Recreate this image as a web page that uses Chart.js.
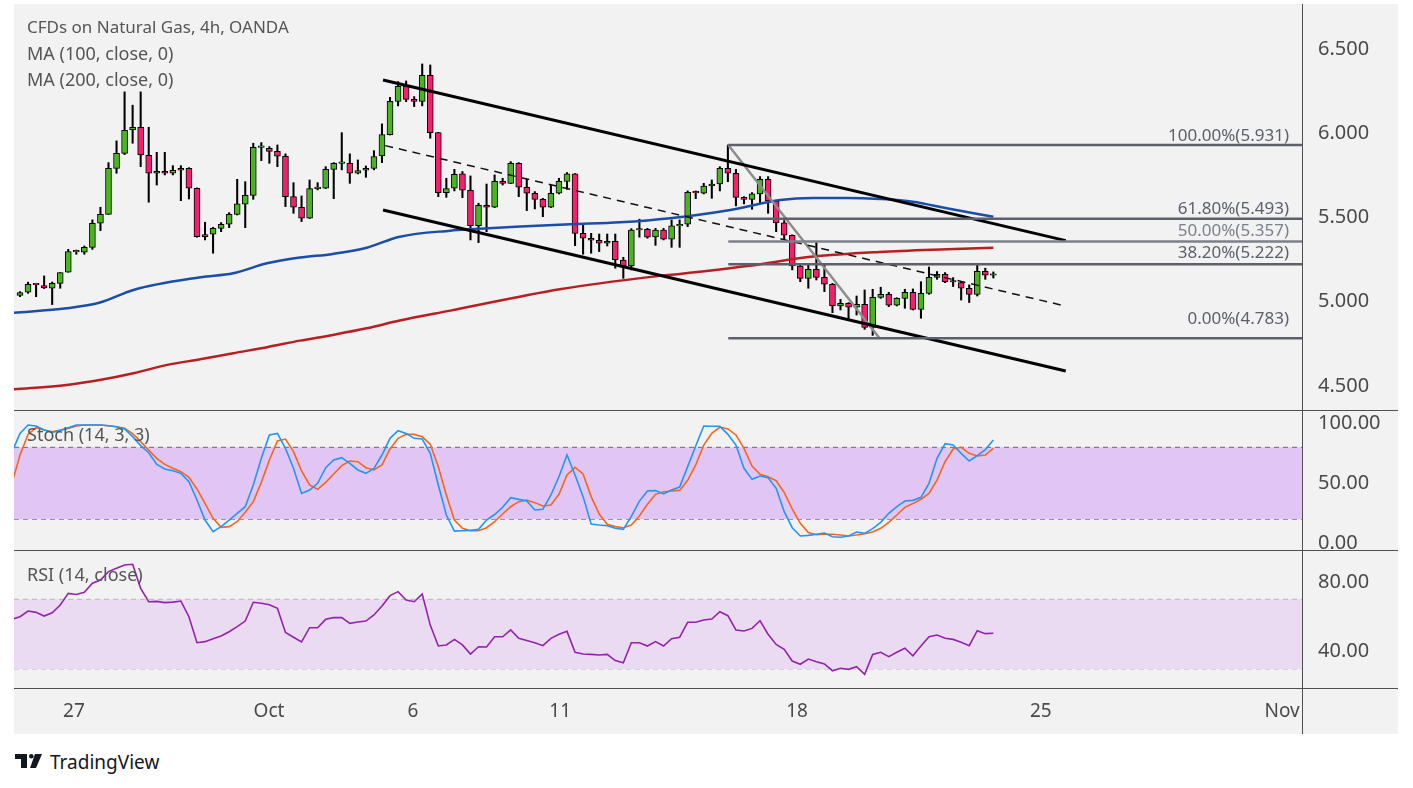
<!DOCTYPE html>
<html>
<head>
<meta charset="utf-8">
<title>CFDs on Natural Gas, 4h, OANDA</title>
<script src="https://cdn.jsdelivr.net/npm/chart.js@4.4.1/dist/chart.umd.min.js"></script>
<style>
  body { margin: 0; width: 1413px; height: 788px; overflow: hidden; background: #fff; font-family: "Noto Sans", sans-serif; }
  #frame { position: absolute; left: 14px; top: 4px; width: 1384px; height: 730px; background: #f2f2f2; }
  #frame canvas { position: absolute; left: 0; }
  .lbl { position: absolute; left: 13px; color: #555; font-size: 18px; line-height: 22px; white-space: nowrap; }
  #logo { position: absolute; left: 15px; top: 750px; height: 24px; }
  #logo span { position: absolute; left: 35px; top: -1px; font-size: 19px; color: #131722; white-space: nowrap; }
</style>
</head>
<body>
<div id="frame">
  <canvas id="priceChart" width="1384" height="406" style="top:0"></canvas>
  <canvas id="stochChart" width="1384" height="140" style="top:406px"></canvas>
  <canvas id="rsiChart" width="1384" height="184" style="top:546px"></canvas>
  <div class="lbl" style="top:12px;font-size:17px">CFDs on Natural Gas, 4h, OANDA</div>
  <div class="lbl" style="top:38px">MA (100, close, 0)</div>
  <div class="lbl" style="top:64px">MA (200, close, 0)</div>
  <div class="lbl" style="top:419px">Stoch (14, 3, 3)</div>
  <div class="lbl" style="top:559px">RSI (14, close)</div>
</div>
<div id="logo">
  <svg width="30" height="18" viewBox="0 0 30 18">
    <path d="M0 4h12v14H6V9H0z" fill="#131722"/>
    <circle cx="16.3" cy="6.3" r="2.3" fill="#131722"/>
    <path d="M20 4h7l-6 14h-6z" fill="#131722"/>
  </svg>
  <span>TradingView</span>
</div>
<script>
// 4h candles, index 0 = first visible bar
const opens  = [5.038,5.056,5.104,5.096,5.080,5.109,5.175,5.296,5.294,5.323,5.466,5.519,5.792,5.881,6.020,6.036,5.870,5.763,5.775,5.763,
                5.781,5.792,5.674,5.387,5.401,5.436,5.460,5.519,5.579,5.632,5.917,5.911,5.893,5.864,5.624,5.561,5.496,5.672,5.674,5.786,
                5.822,5.822,5.763,5.781,5.792,5.866,5.992,6.190,6.279,6.202,6.190,6.345,6.004,5.648,5.674,5.759,5.662,5.452,5.573,5.561,
                5.715,5.703,5.822,5.680,5.644,5.608,5.561,5.644,5.715,5.759,5.406,5.377,5.365,5.347,5.359,5.248,5.212,5.426,5.430,5.385,
                5.426,5.371,5.450,5.460,5.650,5.644,5.687,5.699,5.792,5.763,5.620,5.608,5.640,5.727,5.598,5.468,5.395,5.212,5.139,5.193,
                5.145,5.104,4.975,4.991,4.967,4.985,4.848,5.026,5.044,4.979,5.020,5.056,4.955,5.050,5.145,5.163,5.119,5.113,5.080,5.044,
                5.181,5.157];
const highs  = [5.060,5.116,5.104,5.153,5.117,5.173,5.311,5.307,5.331,5.486,5.561,5.826,5.955,6.246,6.167,6.246,6.036,5.887,5.887,5.808,
                5.808,5.796,5.676,5.472,5.442,5.470,5.529,5.727,5.713,5.941,5.945,5.921,5.931,5.878,5.707,5.628,5.723,5.707,5.802,5.826,
                6.004,5.878,5.842,5.806,5.897,6.056,6.214,6.307,6.311,6.218,6.412,6.406,6.006,5.733,5.786,5.773,5.747,5.585,5.699,5.753,
                5.733,5.832,5.826,5.727,5.654,5.614,5.693,5.733,5.767,5.761,5.456,5.406,5.402,5.402,5.402,5.264,5.434,5.490,5.436,5.436,
                5.436,5.486,5.486,5.658,5.658,5.703,5.723,5.802,5.931,5.786,5.624,5.648,5.743,5.743,5.600,5.482,5.397,5.228,5.228,5.351,
                5.224,5.109,5.014,4.995,5.034,5.070,5.074,5.086,5.056,5.024,5.074,5.076,5.119,5.206,5.179,5.173,5.143,5.119,5.100,5.218,
                5.199,5.177];
const lows   = [5.030,5.050,5.030,5.078,4.983,5.080,5.175,5.282,5.282,5.311,5.422,5.519,5.763,5.874,5.941,5.802,5.591,5.693,5.753,5.753,
                5.600,5.610,5.383,5.367,5.288,5.416,5.440,5.515,5.440,5.608,5.838,5.822,5.802,5.565,5.525,5.476,5.494,5.664,5.672,5.612,
                5.783,5.703,5.759,5.739,5.783,5.826,5.990,6.163,6.188,6.159,6.163,5.971,5.624,5.620,5.658,5.618,5.367,5.351,5.416,5.559,
                5.693,5.701,5.624,5.541,5.551,5.505,5.559,5.640,5.668,5.333,5.282,5.288,5.298,5.331,5.199,5.139,5.189,5.383,5.377,5.335,
                5.367,5.323,5.323,5.446,5.612,5.640,5.614,5.658,5.713,5.569,5.581,5.549,5.588,5.525,5.416,5.371,5.189,5.119,5.080,5.129,
                5.060,4.935,4.951,4.896,4.921,4.836,4.800,5.020,4.971,4.975,4.961,4.951,4.902,5.044,5.133,5.113,5.090,5.010,4.995,5.034,
                5.133,5.141];
const closes = [5.054,5.104,5.100,5.082,5.109,5.173,5.298,5.298,5.323,5.466,5.519,5.792,5.881,6.018,6.036,5.872,5.763,5.775,5.763,5.781,
                5.792,5.674,5.387,5.399,5.436,5.460,5.519,5.581,5.632,5.917,5.919,5.893,5.864,5.624,5.561,5.496,5.672,5.674,5.786,5.822,
                5.824,5.763,5.779,5.792,5.862,5.992,6.190,6.279,6.202,6.190,6.345,6.004,5.648,5.672,5.757,5.662,5.452,5.573,5.561,5.715,
                5.703,5.822,5.680,5.644,5.608,5.561,5.644,5.715,5.759,5.406,5.377,5.365,5.347,5.359,5.248,5.212,5.426,5.430,5.383,5.426,
                5.371,5.450,5.460,5.650,5.646,5.687,5.699,5.792,5.763,5.620,5.608,5.640,5.727,5.598,5.468,5.395,5.212,5.139,5.193,5.145,
                5.104,4.975,4.991,4.967,4.985,4.848,5.026,5.044,4.979,5.020,5.056,4.955,5.050,5.145,5.163,5.119,5.117,5.080,5.044,5.181,
                5.157,5.159];

// moving averages, read at knots along the curves (bar index, price)
const ma100Idx = [-0.75,5.8,9.95,14.1,22.4,26.5,30.7,34.8,38.9,43.1,47.2,53.5,56,62.2,68.4,74.6,80.8,88.3,94.5,98.6,102.8,106.9,111,115.2,121];
const ma100Val = [4.935,4.961,4.995,5.070,5.145,5.169,5.228,5.262,5.284,5.321,5.386,5.422,5.430,5.446,5.460,5.472,5.496,5.545,5.604,5.616,5.616,5.610,5.594,5.555,5.505];
const ma200Idx = [-0.75,5.8,9.9,14.1,18.3,22.4,26.5,30.7,34.8,38.9,43.1,47.2,53.5,67.1,78.7,82.0,90.4,98.6,106.9,115.2,121];
const ma200Val = [4.480,4.506,4.535,4.575,4.625,4.658,4.694,4.730,4.769,4.803,4.842,4.888,4.947,5.074,5.149,5.165,5.212,5.268,5.296,5.312,5.321];

// oscillators, first value belongs to bar -1 (cut by the left edge)
const oscStart = -1;
const stochK = [76,91.6,98.6,97.8,94.4,92.5,94,96.4,98.6,98.6,98.6,98.6,98,97.2,95.3,88.9,81.4,75.5,65.8,61.9,60.5,58.3,51.4,36.1,19.4,9.7,
                13.9,19.4,25,30.5,48.6,70.8,90.3,91.6,79.1,62.5,41.6,44.4,50,63,69.4,71.4,66.6,61.1,58.3,62.5,73.6,87.5,93.9,91.6,87.5,86.9,
                75,48.6,23.6,10.2,10.5,10.8,11.6,19.4,24,30,38,36.6,35.2,27.8,28.3,40.3,55.5,73.6,56.9,38.9,16.1,15.3,14.7,12.5,11.6,22.5,
                35.2,43.6,43.9,41.1,44.4,46.9,63.9,81.1,97.8,97.5,97.5,90.8,81.9,62.5,53.3,56.1,54.7,45.8,26.4,13,6.1,6.6,7.5,8.6,5.5,5,
                6.1,9.4,8.3,12.2,17.5,25,30.5,35.2,35.8,38.3,50,70.8,83,81.9,75,68.6,73,78,86.1];
const stochD = [50,73.6,90.8,96.4,94.4,93,94.4,95.8,97.8,98.6,98.6,98.6,98,97.2,95.8,91.4,84.7,77.7,70.8,65.8,62.5,59.7,55,45.3,33.3,20.8,
                13.3,13.9,18,25.8,34.7,50.8,69.4,85.3,86.9,76.4,60.3,48.6,45,50.8,57.8,64.7,68.6,68,63,61.1,65.3,78.6,87.5,90.8,90.8,88.9,
                82.5,63.9,40.3,19.4,12.5,10.5,10.5,13,18,24.4,30.5,34.7,36.1,33.9,31.1,31.9,40.8,56.9,63.3,57.8,38.9,24.4,15.8,13.9,13,15.3,
                22.8,32.5,40.8,43,43.6,44.1,52.5,65.3,81.9,91.6,96.9,95.3,90.3,79.1,64.4,57.5,55.5,52.2,42.5,28.6,16.6,8.9,7.2,7.5,7.5,6.9,
                6.1,6.9,8,9.4,12.5,17.5,23.6,30,33.1,36.7,41.6,52.7,68,78.6,80,75,72.8,73.6,79.1];
const rsi    = [58.5,60,63.3,62.5,60.4,62.3,66.7,73.4,72.8,74,79.2,81.1,85.9,87.8,89.7,90.1,76.3,68.6,68.8,68.1,68.4,69,60,45.1,45.7,47.4,
                48.9,51.4,54.3,57.5,68.3,67.7,66.9,64.8,51,48.2,45.5,53.7,53.7,58.5,59.5,59.5,56.2,57,57.5,61,66.2,72.1,74.4,69.6,68.6,73,
                55.2,43.2,43.8,47,43.8,38.6,42.8,42.6,48.5,48.5,52.4,47.6,46.3,45.1,43.4,47.6,49.9,51.6,39.6,38.6,38.4,38,38.4,34.8,33.6,45.1,
                45.1,43.2,45.7,43.2,47.4,48.2,56.8,56.8,58.1,58.7,62.9,60.6,52.4,51.8,53.3,57.7,49.9,44.1,41.3,34.6,32.7,35.7,34.2,32.9,29,
                30.4,29.8,31.3,26.9,38.4,39.6,37.1,39.6,41.9,37.6,43.2,48.5,49.5,47.6,47,45.3,43.4,52,50.3,50.5];
const stochBands = [20, 80];
const rsiBands = [30, 70];

// drawings: [barIndex, price]
const channelUpper = [[45.13, 6.317], [130.0, 5.363]];
const channelLower = [[45.13, 5.545], [130.0, 4.589]];
const channelMid   = [[45.4, 5.927], [129.9, 4.975]];
const swingLine    = [[88.05, 5.931], [106.9, 4.78]];
const fibStart = 88.05;
const fibLevels = [5.931, 5.493, 5.357, 5.222, 4.783];
const fibPct = ['100.00%', '61.80%', '50.00%', '38.20%', '0.00%'];

// axes
const xMin = -0.746, xMax = 159.37;
const xTickPos = [6.7, 30.95, 48.85, 67.15, 96.6, 126.9, 156.9];
const xTickText = ['27', 'Oct', '6', '11', '18', '25', 'Nov'];
const priceTicks = [4.5, 5.0, 5.5, 6.0, 6.5];
const stochTicks = [0, 50, 100];
const rsiTicks = [40, 80];

const FONT = '"Noto Sans", sans-serif';
const GREEN = '#4bb521', RED = '#f5206b';
const AXIS_W = 96;

function pts(pairs) { return pairs.map(p => ({ x: p[0], y: p[1] })); }
function noPad(scale) { scale.paddingTop = 0; scale.paddingBottom = 0; scale.paddingLeft = 0; scale.paddingRight = 0; }

function yAxis(min, max, ticks, digits) {
  return {
    position: 'right', min, max,
    grid: { display: false, drawTicks: false }, border: { display: false },
    afterBuildTicks: s => { s.ticks = ticks.map(v => ({ value: v })); },
    afterFit: s => { s.width = AXIS_W; noPad(s); },
    ticks: { padding: 16, color: '#4a4a4a', font: { family: FONT, size: 20 }, callback: v => Number(v).toFixed(digits) },
  };
}
function hiddenX() {
  return { type: 'linear', min: xMin, max: xMax, offset: false, display: false };
}

// pane borders, the right axis line and the time axis line
const paneChrome = {
  id: 'paneChrome',
  afterDraw(chart, args, opts) {
    const { ctx, chartArea } = chart;
    ctx.save();
    ctx.strokeStyle = '#505050';
    ctx.lineWidth = 1;
    ctx.beginPath();
    const xr = Math.round(chartArea.right) + 0.5;
    ctx.moveTo(xr, 0); ctx.lineTo(xr, chart.height);
    if (opts.top) { ctx.moveTo(0, 0.5); ctx.lineTo(chart.width, 0.5); }
    if (opts.timeAxis) {
      const yb = Math.round(chartArea.bottom) + 0.5;
      ctx.moveTo(0, yb); ctx.lineTo(chart.width, yb);
    }
    ctx.stroke();
    ctx.restore();
  }
};

const fibLabels = {
  id: 'fibLabels',
  afterDatasetsDraw(chart) {
    const { ctx, scales: { x, y } } = chart;
    const lift = [9, 10, 10, 11, 19];
    ctx.save();
    ctx.font = '17px ' + FONT;
    ctx.textAlign = 'right';
    ctx.textBaseline = 'middle';
    fibLevels.forEach((lv, k) => {
      ctx.fillStyle = k === 2 ? '#7d808a' : '#5d606b';
      ctx.fillText(fibPct[k] + '(' + lv.toFixed(3) + ')', x.getPixelForValue(xMax) - 13, y.getPixelForValue(lv) - lift[k]);
    });
    ctx.restore();
  }
};

const common = {
  responsive: false, animation: false, events: [],
  layout: { padding: 0 },
  plugins: { legend: { display: false }, tooltip: { enabled: false } },
};

function drawLine(pairs, color, width, dash) {
  return { type: 'line', data: pts(pairs), borderColor: color, borderWidth: width, borderDash: dash || [], pointRadius: 0, order: 1 };
}

// ---- price pane
const bars = opens.map((o, i) => i);
const fibSets = fibLevels.map((lv, k) => drawLine([[fibStart, lv], [xMax, lv]], k === 2 ? '#7d808a' : '#5d606b', 2.5));

new Chart(document.getElementById('priceChart'), {
  type: 'bar',
  data: {
    datasets: [
      ...fibSets,
      drawLine(channelUpper, '#000', 3),
      drawLine(channelLower, '#000', 3),
      drawLine(channelMid, '#111', 1.5, [8, 6]),
      drawLine(swingLine, '#8c8c8c', 2.5),
      { type: 'line', data: ma100Idx.map((x, k) => ({ x, y: ma100Val[k] })), borderColor: '#1b4ea6', borderWidth: 2.5,
        pointRadius: 0, cubicInterpolationMode: 'monotone', order: 5 },
      { type: 'line', data: ma200Idx.map((x, k) => ({ x, y: ma200Val[k] })), borderColor: '#b71f22', borderWidth: 2.5,
        pointRadius: 0, cubicInterpolationMode: 'monotone', order: 5 },
      { type: 'bar', data: bars.map(i => ({ x: i, y: [opens[i], closes[i]] })),
        backgroundColor: bars.map(i => closes[i] >= opens[i] ? GREEN : RED),
        borderColor: '#000', borderWidth: 1, borderSkipped: false, barThickness: 6, minBarLength: 1.5,
        grouped: false, order: 8 },
      { type: 'bar', data: bars.map(i => ({ x: i, y: [lows[i], highs[i]] })),
        backgroundColor: '#000', borderWidth: 0, barThickness: 1.4, grouped: false, order: 9 },
    ]
  },
  options: {
    ...common,
    scales: { x: hiddenX(), y: yAxis(4.357, 6.768, priceTicks, 3) },
    plugins: { ...common.plugins, paneChrome: {} },
  },
  plugins: [paneChrome, fibLabels],
});

// ---- stochastic pane
const oscX = k => k + oscStart;
new Chart(document.getElementById('stochChart'), {
  type: 'line',
  data: {
    datasets: [
      { data: stochK.map((v, k) => ({ x: oscX(k), y: v })), borderColor: '#2196f3', borderWidth: 1.6, pointRadius: 0, order: 1 },
      { data: stochD.map((v, k) => ({ x: oscX(k), y: v })), borderColor: '#f6661c', borderWidth: 1.6, pointRadius: 0, order: 2 },
      { data: [{ x: xMin, y: stochBands[1] }, { x: xMax, y: stochBands[1] }], borderColor: '#6d6272', borderWidth: 1,
        borderDash: [5, 4], pointRadius: 0, fill: { value: stochBands[0] }, backgroundColor: '#e1c5f4', order: 3 },
      { data: [{ x: xMin, y: stochBands[0] }, { x: xMax, y: stochBands[0] }], borderColor: '#6d6272', borderWidth: 1,
        borderDash: [5, 4], pointRadius: 0, order: 3 },
    ]
  },
  options: {
    ...common,
    scales: { x: hiddenX(), y: yAxis(-5.58, 111.1, stochTicks, 2) },
    plugins: { ...common.plugins, paneChrome: { top: true } },
  },
  plugins: [paneChrome],
});

// ---- RSI pane with the time axis
new Chart(document.getElementById('rsiChart'), {
  type: 'line',
  data: {
    datasets: [
      { data: rsi.map((v, k) => ({ x: oscX(k), y: v })), borderColor: '#9423ab', borderWidth: 1.6, pointRadius: 0, order: 1 },
      { data: [{ x: xMin, y: rsiBands[1] }, { x: xMax, y: rsiBands[1] }], borderColor: '#bbb3c2', borderWidth: 1,
        borderDash: [5, 4], pointRadius: 0, fill: { value: rsiBands[0] }, backgroundColor: '#eadbf3', order: 3 },
      { data: [{ x: xMin, y: rsiBands[0] }, { x: xMax, y: rsiBands[0] }], borderColor: '#bbb3c2', borderWidth: 1,
        borderDash: [5, 4], pointRadius: 0, order: 3 },
    ]
  },
  options: {
    ...common,
    scales: {
      x: {
        type: 'linear', min: xMin, max: xMax, offset: false,
        grid: { display: false, drawTicks: false }, border: { display: false },
        afterBuildTicks: s => { s.ticks = xTickPos.map(v => ({ value: v })); },
        afterFit: s => { s.height = 46; noPad(s); },
        ticks: { autoSkip: false, maxRotation: 0, padding: 12, color: '#4a4a4a', font: { family: FONT, size: 19 },
                 callback: (v, k) => xTickText[k] },
      },
      y: yAxis(19.09, 98.3, rsiTicks, 2),
    },
    plugins: { ...common.plugins, paneChrome: { top: true, timeAxis: true } },
  },
  plugins: [paneChrome],
});
</script>
</body>
</html>
